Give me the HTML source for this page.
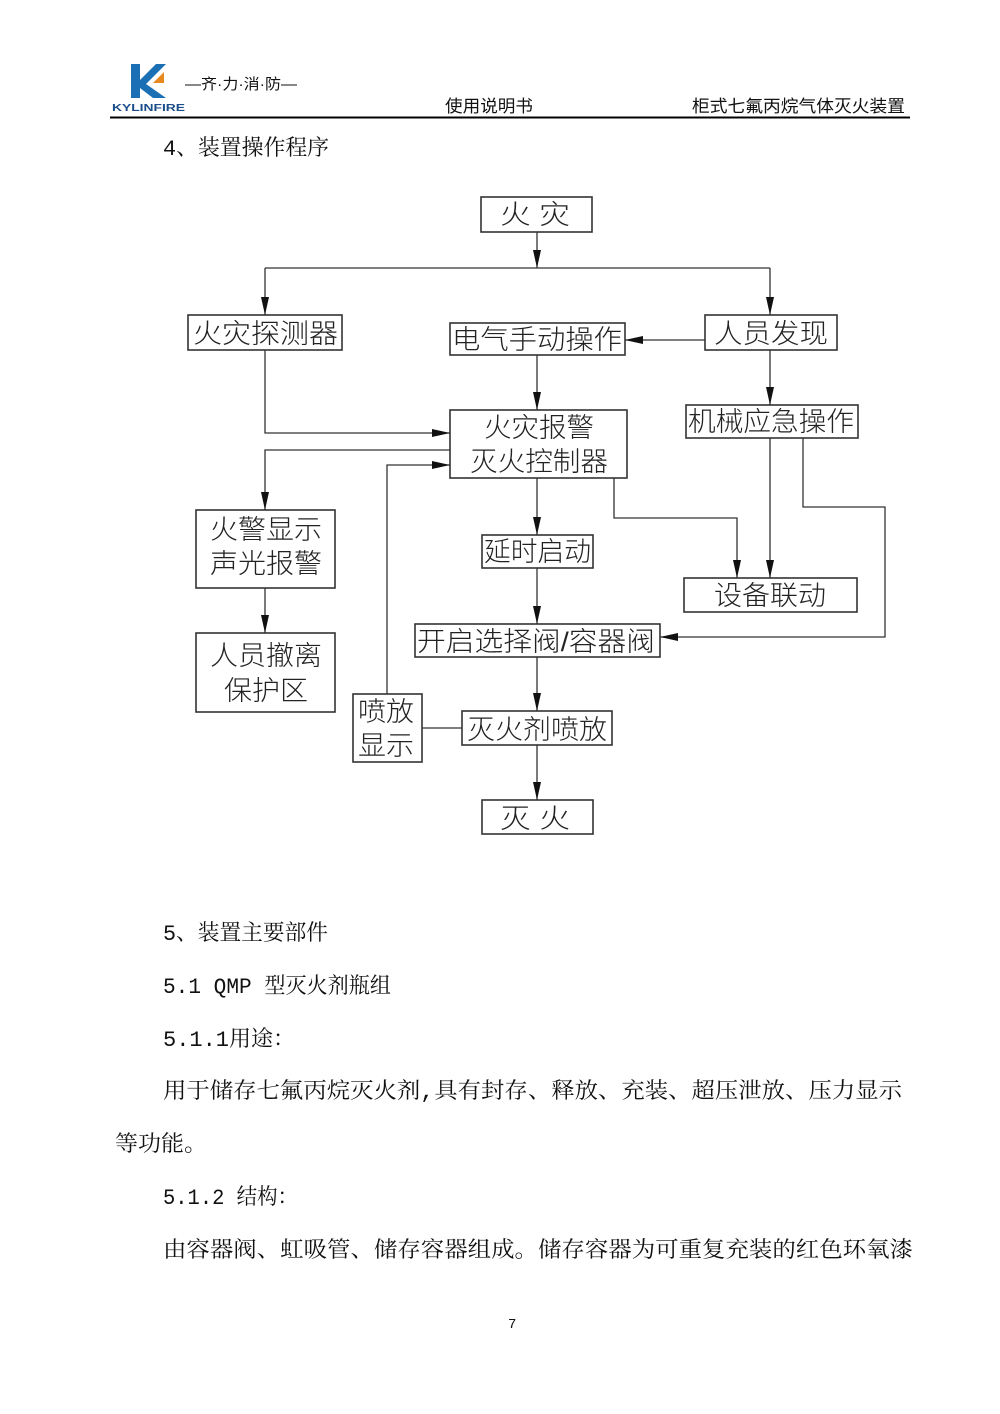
<!DOCTYPE html>
<html><head><meta charset="utf-8"><style>
html,body{margin:0;padding:0;background:#fff;}
svg{display:block;}
.d{font-family:"Liberation Sans","Noto Sans CJK SC",sans-serif;font-size:27px;fill:#222;font-weight:300;}
.t{font-family:"Liberation Mono","Noto Serif CJK SC",serif;font-size:22px;fill:#111;}
.h{font-family:"Liberation Sans","Noto Sans CJK SC",sans-serif;font-size:17px;fill:#111;}
</style></head><body>
<svg width="1000" height="1414" viewBox="0 0 1000 1414" xmlns="http://www.w3.org/2000/svg">
<defs><marker id="a" viewBox="0 0 10 10" refX="10" refY="5" markerWidth="18" markerHeight="8" markerUnits="userSpaceOnUse" orient="auto" preserveAspectRatio="none"><path d="M0,0 L10,5 L0,10 z" fill="#111"/></marker></defs>
<!-- header -->
<polygon points="131,64 140,64 140,98 131,98" fill="#1a6fb5"/>
<polygon points="140,80 156,64 166,64 146,84 166,98 153,98 140,88" fill="#1a6fb5"/>
<polygon points="153,83 164,72 164,83" fill="#e8891f"/>
<text x="112" y="111" style="font-family:'Liberation Sans',sans-serif;font-size:10px;font-weight:bold;fill:#1a4d8a" textLength="73" lengthAdjust="spacingAndGlyphs">KYLINFIRE</text>
<text x="185" y="89" class="h" style="font-size:15px" textLength="112" lengthAdjust="spacingAndGlyphs">—齐·力·消·防—</text>
<text x="445" y="112" class="h" textLength="88" lengthAdjust="spacingAndGlyphs">使用说明书</text>
<text x="692" y="112" class="h" textLength="213" lengthAdjust="spacingAndGlyphs">柜式七氟丙烷气体灭火装置</text>
<line x1="110" y1="117.5" x2="910" y2="117.5" stroke="#000" stroke-width="2"/>
<text x="163" y="155" class="t" textLength="166" lengthAdjust="spacingAndGlyphs">4、装置操作程序</text>
<g fill="none" stroke="#333" stroke-width="1.6">
<rect x="481" y="197" width="111" height="35"/>
<rect x="188" y="315" width="154" height="35"/>
<rect x="450" y="323" width="175" height="32"/>
<rect x="705" y="315" width="132" height="35"/>
<rect x="450" y="410" width="177" height="68"/>
<rect x="686" y="405" width="172" height="33"/>
<rect x="196" y="510" width="139" height="78"/>
<rect x="482" y="535" width="111" height="33"/>
<rect x="684" y="578" width="173" height="34"/>
<rect x="415" y="624" width="245" height="33"/>
<rect x="196" y="633" width="139" height="79"/>
<rect x="353" y="694" width="69" height="68"/>
<rect x="462" y="711" width="150" height="34"/>
<rect x="482" y="800" width="111" height="34"/>
</g>
<g fill="none" stroke="#333" stroke-width="1.3">
<line x1="537" y1="232" x2="537" y2="268" marker-end="url(#a)"/>
<line x1="265" y1="268" x2="770" y2="268"/>
<line x1="265" y1="268" x2="265" y2="315" marker-end="url(#a)"/>
<line x1="770" y1="268" x2="770" y2="315" marker-end="url(#a)"/>
<line x1="705" y1="340" x2="625" y2="340" marker-end="url(#a)"/>
<line x1="537" y1="355" x2="537" y2="410" marker-end="url(#a)"/>
<line x1="770" y1="350" x2="770" y2="405" marker-end="url(#a)"/>
<polyline points="265,350 265,433 450,433" marker-end="url(#a)"/>
<polyline points="450,450 265,450 265,510" marker-end="url(#a)"/>
<polyline points="387,694 387,465 450,465" marker-end="url(#a)"/>
<line x1="537" y1="478" x2="537" y2="535" marker-end="url(#a)"/>
<polyline points="614,478 614,518 737,518 737,578" marker-end="url(#a)"/>
<line x1="770" y1="438" x2="770" y2="578" marker-end="url(#a)"/>
<polyline points="803,438 803,507 885,507 885,637 660,637" marker-end="url(#a)"/>
<line x1="537" y1="568" x2="537" y2="624" marker-end="url(#a)"/>
<line x1="265" y1="588" x2="265" y2="633" marker-end="url(#a)"/>
<line x1="537" y1="657" x2="537" y2="711" marker-end="url(#a)"/>
<line x1="422" y1="728" x2="462" y2="728"/>
<line x1="537" y1="745" x2="537" y2="800" marker-end="url(#a)"/>
</g>
<g class="d">
<text x="500" y="224" textLength="70" lengthAdjust="spacingAndGlyphs">火 灾</text>
<text x="193" y="343" textLength="145" lengthAdjust="spacingAndGlyphs">火灾探测器</text>
<text x="452" y="349" textLength="170" lengthAdjust="spacingAndGlyphs">电气手动操作</text>
<text x="714" y="343" textLength="114" lengthAdjust="spacingAndGlyphs">人员发现</text>
<text x="484" y="437" textLength="110" lengthAdjust="spacingAndGlyphs">火灾报警</text>
<text x="470" y="471" textLength="138" lengthAdjust="spacingAndGlyphs">灭火控制器</text>
<text x="688" y="431" textLength="166" lengthAdjust="spacingAndGlyphs">机械应急操作</text>
<text x="210" y="539" textLength="112" lengthAdjust="spacingAndGlyphs">火警显示</text>
<text x="210" y="573" textLength="112" lengthAdjust="spacingAndGlyphs">声光报警</text>
<text x="484" y="561" textLength="107" lengthAdjust="spacingAndGlyphs">延时启动</text>
<text x="714" y="605" textLength="112" lengthAdjust="spacingAndGlyphs">设备联动</text>
<text x="417" y="651" textLength="238" lengthAdjust="spacingAndGlyphs">开启选择阀/容器阀</text>
<text x="210" y="665" textLength="112" lengthAdjust="spacingAndGlyphs">人员撤离</text>
<text x="224" y="700" textLength="84" lengthAdjust="spacingAndGlyphs">保护区</text>
<text x="358" y="721" textLength="56" lengthAdjust="spacingAndGlyphs">喷放</text>
<text x="358" y="755" textLength="56" lengthAdjust="spacingAndGlyphs">显示</text>
<text x="467" y="739" textLength="140" lengthAdjust="spacingAndGlyphs">灭火剂喷放</text>
<text x="500" y="828" textLength="70" lengthAdjust="spacingAndGlyphs">灭 火</text>
</g>
<g class="t">
<text x="163" y="940" textLength="165" lengthAdjust="spacingAndGlyphs">5、装置主要部件</text>
<text x="163" y="993" textLength="228" lengthAdjust="spacingAndGlyphs">5.1 QMP 型灭火剂瓶组</text>
<text x="163" y="1046" textLength="132" lengthAdjust="spacingAndGlyphs">5.1.1用途：</text>
<text x="163" y="1098" textLength="739" lengthAdjust="spacingAndGlyphs">用于储存七氟丙烷灭火剂,具有封存、释放、充装、超压泄放、压力显示</text>
<text x="115" y="1151" textLength="92" lengthAdjust="spacingAndGlyphs">等功能。</text>
<text x="163" y="1204" textLength="135" lengthAdjust="spacingAndGlyphs">5.1.2 结构：</text>
<text x="163" y="1257" textLength="750" lengthAdjust="spacingAndGlyphs">由容器阀、虹吸管、储存容器组成。储存容器为可重复充装的红色环氧漆</text>
<text x="508" y="1328" style="font-size:14px">7</text>
</g>
</svg>
</body></html>
